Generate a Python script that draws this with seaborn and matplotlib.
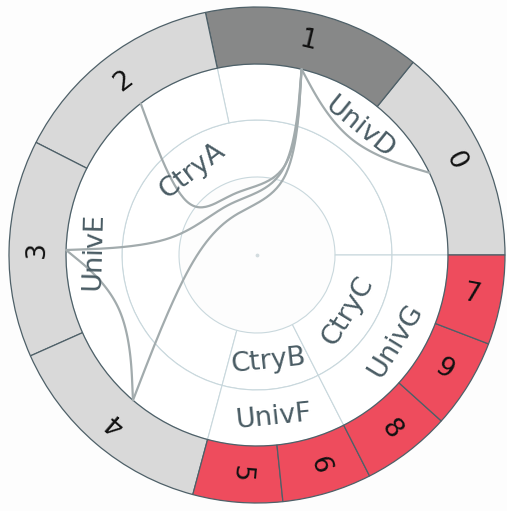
import numpy as np
import pandas as pd
import seaborn as sns
import matplotlib.pyplot as plt
from matplotlib.patches import Wedge

# outer ring leaves, counter-clockwise from 3 o'clock
leaf_labels = ["0", "1", "2", "3", "4", "5", "6", "8", "9", "7"]
leaf_weight = [17, 17, 17, 17, 17, 7, 7, 7, 7, 7]
leaf_univ = ["UnivD", "UnivD", "UnivE", "UnivE", "UnivE",
             "UnivF", "UnivF", "UnivG", "UnivG", "UnivG"]
leaf_kind = ["base", "focus", "base", "base", "base",
             "flag", "flag", "flag", "flag", "flag"]

univ_names = ["UnivD", "UnivE", "UnivF", "UnivG"]
univ_ctry = ["CtryA", "CtryA", "CtryB", "CtryC"]
ctry_names = ["CtryA", "CtryB", "CtryC"]

# links between leaves
link_src = ["1", "1", "1", "1", "3"]
link_dst = ["0", "2", "3", "4", "4"]

kind_color = {"base": "#d9d9d9", "focus": "#878888", "flag": "#ee4c5d"}

sns.set_theme(style="white")
plt.rcParams["font.family"] = ["DejaVu Sans"]

R0, R1, R2, R3, R4 = 78, 135, 191, 191, 248   # ctry / univ / ring radii
R_UNIV_NODE, R_CTRY_NODE = 69, 55
EDGE_LIGHT = "#c9d8dd"
EDGE_DARK = "#4e6068"
TEXT_INNER = "#4a5c64"

# angles
w = np.array(leaf_weight, dtype=float)
deg = w / w.sum() * 360
start = np.concatenate([[0], np.cumsum(deg)[:-1]])
end = start + deg
leaves = pd.DataFrame({"label": leaf_labels, "univ": leaf_univ, "kind": leaf_kind,
                       "start": start, "end": end})
leaves["mid"] = (leaves.start + leaves.end) / 2
univ = pd.DataFrame({"name": univ_names, "ctry": univ_ctry})
univ["start"] = [leaves[leaves.univ == u].start.min() for u in univ_names]
univ["end"] = [leaves[leaves.univ == u].end.max() for u in univ_names]
univ["node"] = [leaves[leaves.univ == u].mid.mean() for u in univ_names]
ctry = pd.DataFrame({"name": ctry_names})
ctry["start"] = [univ[univ.ctry == c].start.min() for c in ctry_names]
ctry["end"] = [univ[univ.ctry == c].end.max() for c in ctry_names]
ctry["node"] = [univ[univ.ctry == c].node.mean() for c in ctry_names]


def polar(r, a):
    t = np.radians(a)
    return np.array([r * np.cos(t), r * np.sin(t)])


def tangential(a):
    rot = a - 90
    if 180 < a % 360 < 360:
        rot += 180
    return rot


fig = plt.figure(figsize=(5.07, 5.11), dpi=100, facecolor="#fdfdfd")
ax = fig.add_axes([0, 0, 1, 1])

# inner sunburst
for _, c in ctry.iterrows():
    ax.add_patch(Wedge((0, 0), R1, c.start, c.end, width=R1 - R0,
                       fc="white", ec=EDGE_LIGHT, lw=0.8))
    a = (c.start + c.end) / 2
    p = polar((R0 + R1) / 2, a)
    ax.text(p[0], p[1], c["name"], rotation=tangential(a), rotation_mode="anchor",
            ha="center", va="center", fontsize=19.5, color=TEXT_INNER, zorder=4)
for _, u in univ.iterrows():
    ax.add_patch(Wedge((0, 0), R2, u.start, u.end, width=R2 - R1,
                       fc="white", ec=EDGE_LIGHT, lw=0.8))
    a = (u.start + u.end) / 2
    p = polar((R1 + R2) / 2, a)
    ax.text(p[0], p[1], u["name"], rotation=tangential(a), rotation_mode="anchor",
            ha="center", va="center", fontsize=19.5, color=TEXT_INNER, zorder=4)
ax.scatter([0], [0], s=3, color="#d3dcdf", zorder=2)

# outer ring
for _, l in leaves.iterrows():
    ax.add_patch(Wedge((0, 0), R4, l.start, l.end, width=R4 - R3,
                       fc=kind_color[l.kind], ec=EDGE_DARK, lw=0.9))
    p = polar((R3 + R4) / 2, l.mid)
    rot = l.mid if l.kind == "flag" else l.mid - 90
    ax.text(p[0], p[1], l.label, rotation=rot, rotation_mode="anchor",
            ha="center", va="center", fontsize=19, color="#111111", zorder=4)


# bundled links (uniform B-spline through the hierarchy)
def node_path(a, b):
    la = leaves.set_index("label").loc[a]
    lb = leaves.set_index("label").loc[b]
    pts = [polar(R3, la.mid)]
    ua = univ.set_index("name").loc[la.univ]
    ub = univ.set_index("name").loc[lb.univ]
    pts.append(polar(R_UNIV_NODE, ua.node))
    if la.univ != lb.univ:
        pts.append(polar(R_CTRY_NODE, ctry.set_index("name").loc[ua.ctry].node))
        pts.append(polar(R_UNIV_NODE, ub.node))
    pts.append(polar(R3, lb.mid))
    return np.array(pts)


def bundle(pts, beta):
    n = len(pts)
    line = pts[0] + (pts[-1] - pts[0]) * np.linspace(0, 1, n)[:, None]
    p = beta * pts + (1 - beta) * line
    p = np.vstack([p[0], p[0], p, p[-1], p[-1]])
    t = np.linspace(0, 1, 30)[:, None]
    b0 = (1 - t) ** 3 / 6
    b1 = (3 * t ** 3 - 6 * t ** 2 + 4) / 6
    b2 = (-3 * t ** 3 + 3 * t ** 2 + 3 * t + 1) / 6
    b3 = t ** 3 / 6
    out = [b0 * p[i] + b1 * p[i + 1] + b2 * p[i + 2] + b3 * p[i + 3]
           for i in range(len(p) - 3)]
    return np.vstack(out)


rows = []
for k, (s, d) in enumerate(zip(link_src, link_dst)):
    pts = node_path(s, d)
    curve = bundle(pts, 0.85 if len(pts) > 3 else 0.33)
    rows.append(pd.DataFrame({"x": curve[:, 0], "y": curve[:, 1], "link": k}))
links = pd.concat(rows, ignore_index=True)
sns.lineplot(data=links, x="x", y="y", units="link", estimator=None, sort=False,
             color="#a2abad", lw=1.6, ax=ax, zorder=3)
ax.set_xlim(-257, 250)
ax.set_ylim(-256, 255)
ax.axis("off")

fig.savefig("out.png", dpi=100, facecolor=fig.get_facecolor())
